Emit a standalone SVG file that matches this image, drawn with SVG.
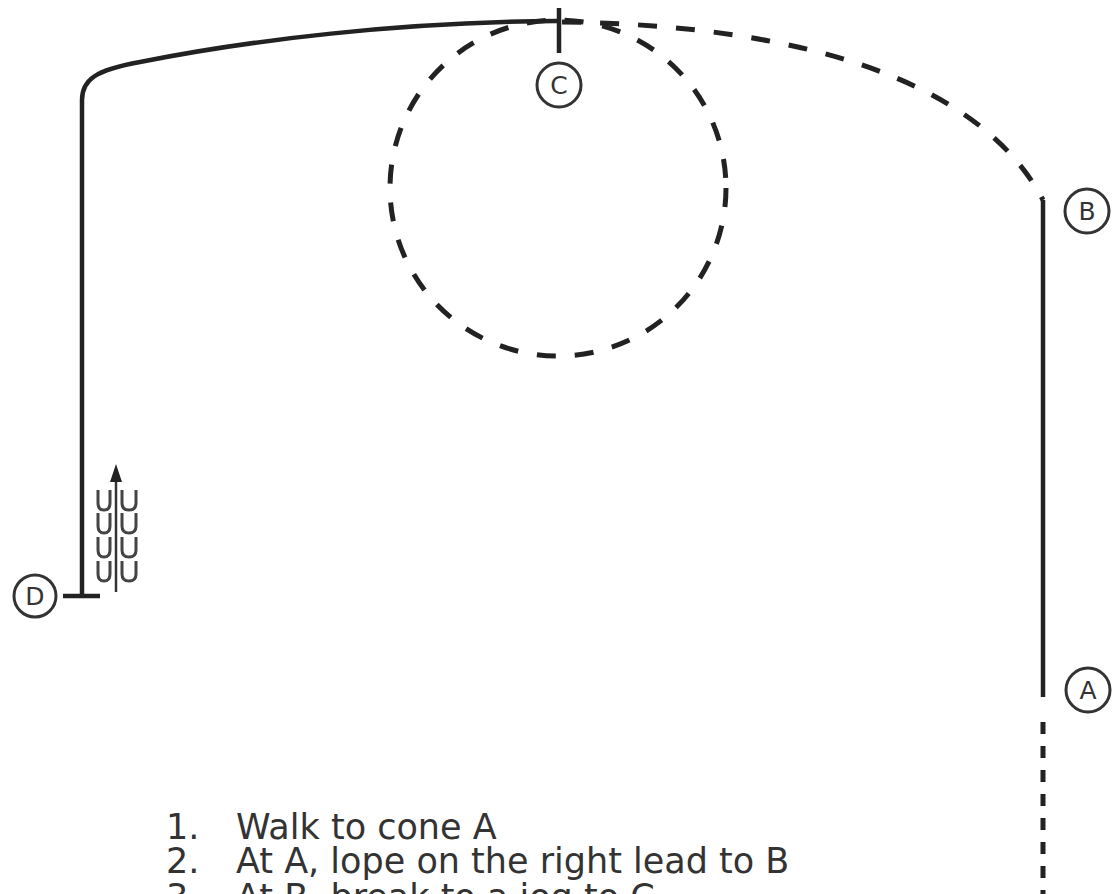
<svg xmlns="http://www.w3.org/2000/svg" width="1114" height="894" viewBox="0 0 1114 894">
<style>
.solid{fill:none;stroke:#222;stroke-width:4.5}
.dash{fill:none;stroke:#222;stroke-width:5;stroke-dasharray:19 19}
.dot{fill:none;stroke:#222;stroke-width:5;stroke-dasharray:12 12}
.cone{fill:#fff;stroke:#333;stroke-width:3}
.lbl{font-family:"DejaVu Sans",sans-serif;font-size:25px;fill:#333;text-anchor:middle}
.txt{font-family:"DejaVu Sans",sans-serif;font-size:35px;fill:#333}
.hoof{fill:none;stroke:#444;stroke-width:3}
</style>
<rect width="1114" height="894" fill="#fff"/>
<g id="connectors">
<path class="solid" d="M82,597 L82,100 C82,80 95,70 140,62 C250,40 400,22 558,21"/>
<path class="dash" d="M562,22 C800,25 980,80 1043,200"/>
<circle class="dash" cx="558" cy="188" r="168"/>
<line class="solid" x1="1043" y1="200" x2="1043" y2="697"/>
<line class="dot" x1="1043" y1="722" x2="1043" y2="894"/>
<line class="solid" x1="559" y1="8" x2="559" y2="53"/>
<line class="solid" x1="63" y1="596" x2="100" y2="596"/>
</g>
<g id="hoofprints">
<line x1="116" y1="592" x2="116" y2="478" stroke="#333" stroke-width="2.5"/>
<path d="M110,482 L116,464 L122,482 Z" fill="#222"/>
<path class="hoof" d="M98,490 v13 q0,7 6,7 q6,0 6,-7 v-13 M122,490 v13 q0,7 7,7 q7,0 7,-7 v-13"/>
<path class="hoof" d="M98,513 v13 q0,7 6,7 q6,0 6,-7 v-13 M122,513 v13 q0,7 7,7 q7,0 7,-7 v-13"/>
<path class="hoof" d="M98,537 v13 q0,7 6,7 q6,0 6,-7 v-13 M122,537 v13 q0,7 7,7 q7,0 7,-7 v-13"/>
<path class="hoof" d="M98,561 v13 q0,7 6,7 q6,0 6,-7 v-13 M122,561 v13 q0,7 7,7 q7,0 7,-7 v-13"/>
</g>
<g id="cone-C">
<circle class="cone" cx="559" cy="85" r="22"/>
<text class="lbl" x="559" y="94">C</text>
</g>
<g id="cone-B">
<circle class="cone" cx="1087" cy="211" r="22"/>
<text class="lbl" x="1087" y="220">B</text>
</g>
<g id="cone-A">
<circle class="cone" cx="1088" cy="690" r="22"/>
<text class="lbl" x="1088" y="699">A</text>
</g>
<g id="cone-D">
<circle class="cone" cx="35" cy="596" r="21"/>
<text class="lbl" x="35" y="605">D</text>
</g>
<g id="instructions">
<text class="txt" x="166" y="839">1.</text>
<text class="txt" x="236" y="839">Walk to cone A</text>
<text class="txt" x="166" y="873">2.</text>
<text class="txt" x="236" y="873">At A, lope on the right lead to B</text>
<text class="txt" x="166" y="909">3.</text>
<text class="txt" x="236" y="909">At B, break to a jog to C</text>
</g>
</svg>
